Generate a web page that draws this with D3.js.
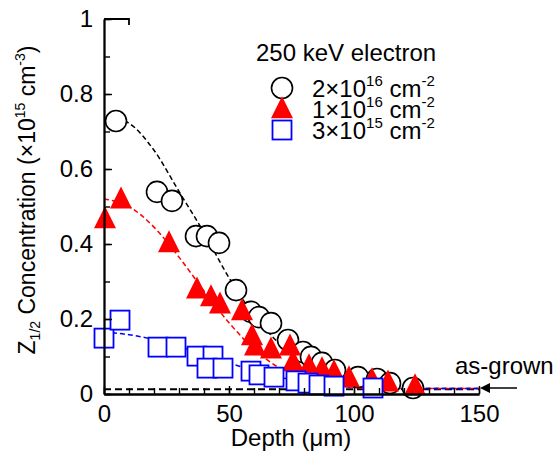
<!DOCTYPE html>
<html><head><meta charset="utf-8">
<script src="https://cdn.jsdelivr.net/npm/d3@7"></script>
<style>
body{margin:0;background:#fff;}
text{font-family:"Liberation Sans",Arial,Helvetica,sans-serif;fill:#000;}
</style></head>
<body><svg id="c" width="555" height="455"></svg>
<script>
// ---- data ----
const xTicks = [0, 50, 100, 150];
const yTicks = [0, 0.2, 0.4, 0.6, 0.8, 1];
const xTickLabels = ["0", "50", "100", "150"];
const yTickLabels = ["0", "0.2", "0.4", "0.6", "0.8", "1"];
const seriesNames = ["2×10", "1×10", "3×10"];
const seriesExp = ["16", "16", "15"];

const depth2e16 = [4.8, 21.2, 27.2, 36.8, 41.2, 46, 52.8, 58.8, 62, 66.8, 73.6, 79.6, 82.8, 87.2, 92.4, 101.6, 109.2, 114.4, 123.6];
const conc2e16  = [0.728, 0.539, 0.515, 0.421, 0.421, 0.403, 0.277, 0.219, 0.205, 0.189, 0.144, 0.112, 0.099, 0.083, 0.064, 0.045, 0.040, 0.029, 0.016];

const depth1e16 = [0.4, 6.8, 26, 37.2, 42.8, 46.4, 55.2, 59.2, 60.4, 66.8, 74.4, 75.6, 82, 87.2, 92, 98, 107.2, 113.6, 124.4];
const conc1e16  = [0.464, 0.517, 0.40, 0.277, 0.256, 0.237, 0.219, 0.152, 0.125, 0.117, 0.125, 0.083, 0.072, 0.064, 0.056, 0.040, 0.035, 0.029, 0.019];

const depth3e15 = [0, 6.4, 21.6, 28.8, 37.2, 43.6, 41.2, 47.6, 58.8, 62, 68, 76.8, 81.6, 86, 92, 107.6];
const conc3e15  = [0.149, 0.197, 0.125, 0.125, 0.101, 0.101, 0.069, 0.069, 0.061, 0.051, 0.045, 0.035, 0.029, 0.024, 0.021, 0.016];

// fitted dashed curves
const fitBlackX = [5, 10, 20, 30, 40, 50, 60, 70, 80, 90, 100, 110, 120, 150];
const fitBlackY = [0.735, 0.722, 0.65, 0.54, 0.43, 0.31, 0.21, 0.135, 0.08, 0.045, 0.028, 0.018, 0.015, 0.015];
const fitRedX = [0, 10, 20, 30, 40, 50, 60, 70, 80, 90, 100, 110, 150];
const fitRedY = [0.52, 0.50, 0.445, 0.365, 0.275, 0.19, 0.12, 0.07, 0.04, 0.025, 0.018, 0.015, 0.015];
const fitBlueX = [0, 10, 20, 30, 40, 50, 60, 70, 80, 90, 100, 110, 150];
const fitBlueY = [0.165, 0.158, 0.145, 0.127, 0.105, 0.083, 0.062, 0.045, 0.032, 0.023, 0.018, 0.015, 0.015];
const asGrownX = [0, 150];
const asGrownY = [0.013, 0.013];

// ---- drawing ----
const svg = d3.select("#c");
const x = d3.scaleLinear().domain([0, 150]).range([104, 479]);
const y = d3.scaleLinear().domain([0, 1]).range([394, 19]);
const FS = 24;

const zip = (a, b) => a.map((v, i) => [v, b[i]]);
const line = d3.line().x(d => x(d[0])).y(d => y(d[1])).curve(d3.curveMonotoneX);

// lines
svg.append("path").attr("d", line(zip(asGrownX, asGrownY)))
  .attr("fill", "none").attr("stroke", "#000").attr("stroke-width", 2).attr("stroke-dasharray", "7,4");
svg.append("path").attr("d", line(zip(fitBlackX, fitBlackY)))
  .attr("fill", "none").attr("stroke", "#000").attr("stroke-width", 1.5).attr("stroke-dasharray", "5,3");
svg.append("path").attr("d", line(zip(fitRedX, fitRedY)))
  .attr("fill", "none").attr("stroke", "#f00").attr("stroke-width", 1.5).attr("stroke-dasharray", "5,3");
svg.append("path").attr("d", line(zip(fitBlueX, fitBlueY)))
  .attr("fill", "none").attr("stroke", "#00f").attr("stroke-width", 1.5).attr("stroke-dasharray", "5,3");

// markers
const triPath = (cx, cy, s) => `M${cx},${cy - s * 0.62}L${cx + s / 2},${cy + s * 0.38}L${cx - s / 2},${cy + s * 0.38}Z`;
function circles(g, xs, ys) {
  g.selectAll(null).data(zip(xs, ys)).enter().append("circle")
    .attr("cx", d => x(d[0])).attr("cy", d => y(d[1])).attr("r", 10.5)
    .attr("fill", "#fff").attr("stroke", "#000").attr("stroke-width", 1.6);
}
function triangles(g, xs, ys) {
  g.selectAll(null).data(zip(xs, ys)).enter().append("path")
    .attr("d", d => triPath(x(d[0]), y(d[1]), 22)).attr("fill", "#f00");
}
function squares(g, xs, ys) {
  g.selectAll(null).data(zip(xs, ys)).enter().append("rect")
    .attr("x", d => x(d[0]) - 9.5).attr("y", d => y(d[1]) - 9.5).attr("width", 19).attr("height", 19)
    .attr("fill", "#fff").attr("stroke", "#00f").attr("stroke-width", 1.8);
}
circles(svg.append("g"), depth2e16, conc2e16);
triangles(svg.append("g"), depth1e16, conc1e16);
squares(svg.append("g"), depth3e15, conc3e15);

// axes
const gx = svg.append("g").attr("transform", `translate(0,${y(0)})`);
gx.call(d3.axisBottom(x).tickValues(d3.range(0, 151, 10)).tickSizeInner(-6).tickSizeOuter(0).tickFormat(""));
gx.append("g").call(d3.axisBottom(x).tickValues(xTicks).tickSizeInner(-8).tickSizeOuter(0)
  .tickPadding(11).tickFormat((d, i) => xTickLabels[i]));
const gy = svg.append("g").attr("transform", `translate(${x(0)},0)`);
gy.call(d3.axisLeft(y).tickValues(d3.range(0, 11).map(v => v / 10)).tickSizeInner(-6).tickSizeOuter(0).tickFormat(""));
gy.append("g").call(d3.axisLeft(y).tickValues(yTicks).tickSizeInner(-8).tickSizeOuter(0)
  .tickPadding(11).tickFormat((d, i) => yTickLabels[i]));
svg.selectAll(".domain").attr("stroke-width", 1.8);
svg.selectAll(".tick line").attr("stroke-width", 1.4);
svg.selectAll(".tick text").attr("font-size", FS).attr("font-family", '"Liberation Sans",Arial,sans-serif');
// short top frame segment
svg.append("path").attr("d", `M${x(0)},${y(1)}H${x(10)}v6`).attr("fill", "none").attr("stroke", "#000").attr("stroke-width", 1.8);

// axis titles
svg.append("text").attr("x", 291).attr("y", 446).attr("text-anchor", "middle").attr("font-size", 24)
  .text("Depth (μm)");
const yl = svg.append("text").attr("transform", "translate(35,200) rotate(-90)").attr("text-anchor", "middle").attr("font-size", 23);
yl.append("tspan").text("Z");
yl.append("tspan").attr("font-size", 14).attr("dy", 5).text("1/2");
yl.append("tspan").attr("dy", -5).text(" Concentration (×10");
yl.append("tspan").attr("font-size", 14).attr("dy", -10).text("15");
yl.append("tspan").attr("dy", 10).text(" cm");
yl.append("tspan").attr("font-size", 14).attr("dy", -10).text("-3");
yl.append("tspan").attr("dy", 10).text(")");

// legend
svg.append("text").attr("x", 256).attr("y", 61).attr("font-size", 24).text("250 keV electron");
const legY = [88, 109, 130];
const lg = svg.append("g");
lg.append("circle").attr("cx", 282).attr("cy", legY[0]).attr("r", 10.5).attr("fill", "#fff").attr("stroke", "#000").attr("stroke-width", 1.6);
lg.append("path").attr("d", triPath(282, legY[1] + 1, 22)).attr("fill", "#f00");
lg.append("rect").attr("x", 272.5).attr("y", legY[2] - 9.5).attr("width", 19).attr("height", 19).attr("fill", "#fff").attr("stroke", "#00f").attr("stroke-width", 1.8);
seriesNames.forEach((nm, i) => {
  const t = svg.append("text").attr("x", 312).attr("y", legY[i] + 9).attr("font-size", 24);
  t.append("tspan").text(nm);
  t.append("tspan").attr("font-size", 15).attr("dy", -11).text(seriesExp[i]);
  t.append("tspan").attr("dy", 11).text(" cm");
  t.append("tspan").attr("font-size", 15).attr("dy", -11).text("-2");
});

// as-grown annotation
svg.append("text").attr("x", 455).attr("y", 374).attr("font-size", 24).text("as-grown");
svg.append("line").attr("x1", 517).attr("y1", 388).attr("x2", 484).attr("y2", 388).attr("stroke", "#000").attr("stroke-width", 1.5);
svg.append("path").attr("d", "M480,388l10,-5v10Z").attr("fill", "#000");
</script></body></html>
